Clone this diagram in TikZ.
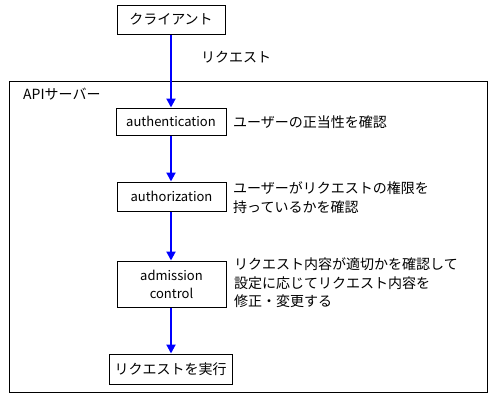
\documentclass[tikz,border=0pt]{standalone}
\usepackage{fontspec}
\setmainfont{Noto Sans CJK JP}
\usetikzlibrary{arrows.meta}
\tikzset{
  box/.style={draw=black, line width=1pt, inner sep=0pt, align=center, font=\fontsize{14}{18}\selectfont},
  latinbox/.style={box, font=\fontsize{13}{18}\selectfont},
  flow/.style={draw={rgb,255:red,0;green,0;blue,255}, line width=2pt, -{Triangle[width=9pt,length=9pt]}},
  desc/.style={anchor=west, align=left, inner sep=0pt, font=\fontsize{14}{18.5}\selectfont},
  lbl/.style={inner sep=0pt, font=\fontsize{14}{18}\selectfont}
}
\begin{document}
\begin{tikzpicture}[x=1pt,y=-1pt]
\useasboundingbox (0,0) rectangle (500,407);
\draw[line width=1pt] (9.5,81.5) rectangle (487,392);
\node[lbl, anchor=west] (api) at (23,94) {APIサーバー};
\node[box, minimum width=108pt, minimum height=29pt] (client) at (171,19.5) {クライアント};
\node[latinbox, minimum width=110pt, minimum height=27pt] (authn) at (171,121.5) {authentication};
\node[latinbox, minimum width=109pt, minimum height=29pt] (authz) at (171.5,196.5) {authorization};
\node[latinbox, minimum width=109pt, minimum height=46pt] (adm) at (171.5,284) {admission\\control};
\node[box, minimum width=123pt, minimum height=30pt] (exec) at (170.5,369) {リクエストを実行};
\node[lbl] (req) at (236,57) {リクエスト};
\node[desc] (d1) at (233,122) {ユーザーの正当性を確認};
\node[desc] (d2) at (233,197.5) {ユーザーがリクエストの権限を\\持っているかを確認};
\node[desc] (d3) at (234,283) {リクエスト内容が適切かを確認して\\設定に応じてリクエスト内容を\\修正・変更する};
\draw[flow] (client.south) -- (client.south |- authn.north);
\draw[flow] (authn.south) -- (authn.south |- authz.north);
\draw[flow] (authz.south -| authn.south) -- (authn.south |- adm.north);
\draw[flow] (adm.south -| authn.south) -- (authn.south |- exec.north);
\end{tikzpicture}
\end{document}
